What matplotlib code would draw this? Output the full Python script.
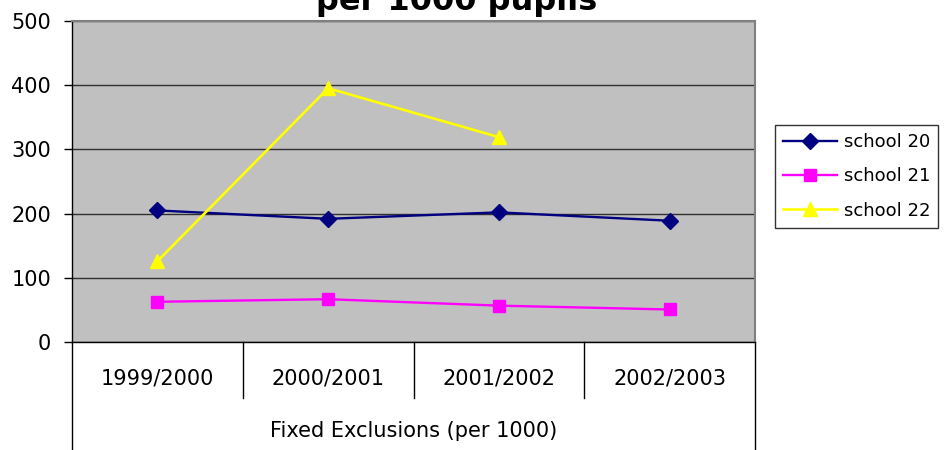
import numpy as np
import matplotlib
matplotlib.use("Agg")
import matplotlib.pyplot as plt

# data
years = ["1999/2000", "2000/2001", "2001/2002", "2002/2003"]
school_20 = [205, 192, 202, 189]
school_21 = [63, 67, 57, 51]
school_22 = [126, 395, 319, np.nan]
y_ticks = [0, 100, 200, 300, 400, 500]

fig = plt.figure(figsize=(9.44, 4.5), dpi=100)
ax = fig.add_axes([72 / 944, 1 - 342.3 / 450, (755 - 72) / 944, (342.3 - 20.7) / 450])
ax.set_facecolor("#C0C0C0")

x = np.arange(len(years)) + 0.5
ax.plot(x, school_20, color="#000080", lw=1.7, marker="D", ms=8.5, label="school 20", zorder=3)
ax.plot(x, school_21, color="#FF00FF", lw=1.7, marker="s", ms=8, label="school 21", zorder=3)
ax.plot(x, school_22, color="#FFFF00", lw=1.9, marker="^", ms=9.5, label="school 22", zorder=3)

ax.set_xlim(0, len(years))
ax.set_ylim(0, 500)
ax.set_yticks(y_ticks)
ax.set_yticklabels([str(t) for t in y_ticks], fontsize=15)
ax.set_xticks([])
ax.tick_params(axis="y", direction="out", length=6, width=1, pad=9)
ax.yaxis.grid(True, color="#303030", lw=1)
ax.set_axisbelow(True)

for s in ["top", "right"]:
    ax.spines[s].set_color("#808080")
    ax.spines[s].set_linewidth(1.5)
for s in ["left", "bottom"]:
    ax.spines[s].set_color("black")
    ax.spines[s].set_linewidth(1)

# category table below the plot
trans = ax.get_xaxis_transform()
y_div = -(398 - 342.3) / (342.3 - 20.7)
y_bot = -(450 - 342.3) / (342.3 - 20.7)
for i in range(1, len(years)):
    ax.plot([i, i], [0, y_div], color="black", lw=1, transform=trans, clip_on=False)
for i in [0, len(years)]:
    ax.plot([i, i], [0, y_bot], color="black", lw=1, transform=trans, clip_on=False)
y_lab = -(379 - 342.3) / (342.3 - 20.7)
for xi, lab in zip(x, years):
    ax.text(xi, y_lab, lab, transform=trans, ha="center", va="center", fontsize=15)
y_axl = -(437 - 342.3) / (342.3 - 20.7)
ax.text(len(years) / 2, y_axl, "Fixed Exclusions (per 1000)", transform=trans,
        ha="center", va="baseline", fontsize=15)

fig.text(457 / 944, 1 - 10 / 450, "per 1000 pupils", ha="center", va="baseline",
         fontsize=23, fontweight="bold")

leg = fig.legend(loc="upper left", bbox_to_anchor=(775 / 944, 1 - 125 / 450), fontsize=13,
                 frameon=True, fancybox=False, edgecolor="black", handlelength=3.0,
                 handletextpad=0.35, labelspacing=0.9, borderpad=0.45, borderaxespad=0)
leg.get_frame().set_linewidth(1)

fig.savefig("out.png", dpi=100)
